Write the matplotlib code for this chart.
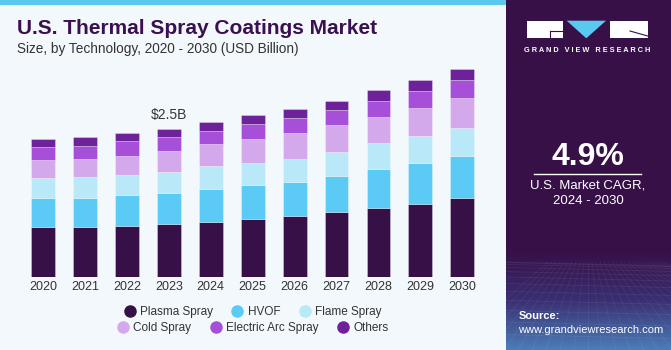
import numpy as np
import matplotlib.pyplot as plt
from matplotlib.patches import Rectangle, Polygon
from matplotlib.lines import Line2D
from matplotlib.colors import LinearSegmentedColormap

plt.rcParams['font.family'] = ['Liberation Sans', 'DejaVu Sans']

# values (USD Billion)
years = ['2020', '2021', '2022', '2023', '2024', '2025', '2026', '2027', '2028', '2029', '2030']
plasma = [0.84, 0.85, 0.87, 0.90, 0.94, 0.99, 1.04, 1.10, 1.17, 1.24, 1.33]
hvof = [0.49, 0.49, 0.51, 0.52, 0.55, 0.56, 0.57, 0.61, 0.66, 0.68, 0.71]
flame = [0.35, 0.35, 0.35, 0.36, 0.38, 0.38, 0.39, 0.41, 0.43, 0.46, 0.47]
cold = [0.29, 0.30, 0.32, 0.35, 0.37, 0.41, 0.43, 0.44, 0.44, 0.47, 0.51]
arc = [0.22, 0.23, 0.24, 0.23, 0.23, 0.25, 0.25, 0.26, 0.27, 0.29, 0.30]
others = [0.135, 0.14, 0.15, 0.14, 0.15, 0.145, 0.16, 0.16, 0.19, 0.19, 0.20]

series_names = ['Plasma Spray', 'HVOF', 'Flame Spray', 'Cold Spray', 'Electric Arc Spray', 'Others']
series_vals = [plasma, hvof, flame, cold, arc, others]
colors = ['#371047', '#5BCBF5', '#B9E8F8', '#D4A9EC', '#A64FD8', '#6E2299']

W, H = 671, 350
fig = plt.figure(figsize=(W / 100, H / 100), dpi=100)
fig.patch.set_facecolor('#F3F8FC')

# top stripe
fig.add_artist(Rectangle((0, 1 - 5 / H), 506 / W, 5 / H, transform=fig.transFigure,
                         color='#5BC8F0', lw=0))

# titles
fig.text(17 / W, 1 - 33.5 / H, 'U.S. Thermal Spray Coatings Market', fontsize=15,
         fontweight='bold', color='#3A1050', va='baseline', ha='left')
fig.text(17 / W, 1 - 53.5 / H, 'Size, by Technology, 2020 - 2030 (USD Billion)', fontsize=9.8,
         color='#333333', va='baseline', ha='left')

# bars
ax = fig.add_axes([17.8 / W, 1 - 277.3 / H, 469.7 / W, 213.5 / H])
ax.set_facecolor('none')
x = np.arange(len(years))
bottom = np.zeros(len(years))
for name, vals, c in zip(series_names, series_vals, colors):
    ax.bar(x, vals, 0.57, bottom=bottom, color=c, label=name,
           edgecolor=(1, 1, 1, 0.35), linewidth=0.6)
    bottom += np.array(vals)

ax.set_xlim(-0.6, 10.6)
ax.set_ylim(0, 3.6)
ax.set_yticks([])
ax.set_xticks(x)
ax.set_xticklabels(years, fontsize=9, color='#333333')
ax.tick_params(axis='x', length=0, pad=3)
for s in ax.spines.values():
    s.set_visible(False)

ax.text(3, bottom[3] + 0.12, r'\$2.5B', ha='center', va='bottom', fontsize=10, color='#333333')

# legend in two centred rows
handles = [Line2D([], [], marker='o', ls='', markersize=8, markerfacecolor=c,
                  markeredgecolor=c) for c in colors]
leg1 = fig.legend(handles[:3], series_names[:3], ncol=3, loc='center',
                  bbox_to_anchor=(252.6 / W, 1 - 311.7 / H), frameon=False, fontsize=8.5,
                  handletextpad=0.35, columnspacing=1.6, handlelength=1.0)
leg2 = fig.legend(handles[3:], series_names[3:], ncol=3, loc='center',
                  bbox_to_anchor=(252.6 / W, 1 - 327.7 / H), frameon=False, fontsize=8.5,
                  handletextpad=0.35, columnspacing=1.6, handlelength=1.0)
for leg in (leg1, leg2):
    for t in leg.get_texts():
        t.set_color('#333333')

# right panel with gradient at the bottom
pax = fig.add_axes([506 / W, 0, 165 / W, 1])
cmap = LinearSegmentedColormap.from_list('panel', [(0, '#371047'), (0.72, '#371047'),
                                                   (0.86, '#3A2F72'), (1, '#4A7DB8')])
grad = np.linspace(0, 1, 256).reshape(-1, 1)
pax.imshow(grad, cmap=cmap, aspect='auto', extent=(0, 165, 350, 0))
# faint grid texture
for k in range(12):
    yy = 262 + k * k * 0.6
    pax.plot([0, 165], [yy, yy + 4], color='white', alpha=0.07, lw=0.6)
for k in range(-10, 20):
    pax.plot([82 + k * 4, 82 + k * 14], [262, 350], color='white', alpha=0.06, lw=0.6)
pax.set_xlim(0, 165)
pax.set_ylim(350, 0)
pax.axis('off')

# logo
pax.add_patch(Rectangle((20.7, 20.7), 36.6, 17.6, color='white', lw=0))
pax.add_patch(Polygon([(60.7, 20.7), (100, 20.7), (80.3, 38.3)], color='#5BC8F0', lw=0))
pax.add_patch(Rectangle((104, 20.7), 37.7, 17.6, color='white', lw=0))
pax.plot([44, 56], [31, 31], color='#371047', lw=0.8)
pax.plot([44, 44], [31, 38.3], color='#371047', lw=0.8)
pax.plot([124, 141.7], [31, 36], color='#371047', lw=0.8)
pax.text(81, 50.7, 'G R A N D   V I E W   R E S E A R C H', ha='center', va='center',
         fontsize=5.3, fontweight='bold', color='white')

pax.text(82, 157, '4.9%', ha='center', va='center', fontsize=23, fontweight='bold', color='white')
pax.plot([28, 135], [173.7, 173.7], color='white', lw=1)
pax.text(82, 185.5, 'U.S. Market CAGR,', ha='center', va='center', fontsize=9.5, color='white')
pax.text(82, 200.8, '2024 - 2030', ha='center', va='center', fontsize=9.5, color='white')

pax.text(12.5, 315.7, 'Source:', ha='left', va='center', fontsize=8, fontweight='bold',
         color='white')
pax.text(12.5, 329.7, 'www.grandviewresearch.com', ha='left', va='center', fontsize=8,
         color='white')

fig.savefig('out.png', dpi=100, facecolor=fig.get_facecolor())
